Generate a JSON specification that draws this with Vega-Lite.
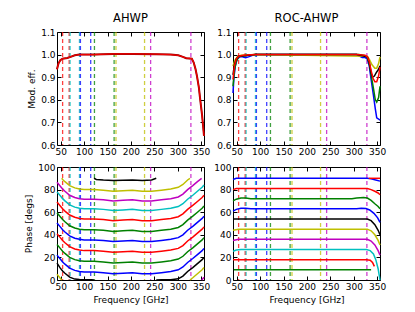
{
  "$schema": "https://vega.github.io/schema/vega-lite/v6.json",
  "padding": {"left": 24, "top": 12, "right": 5, "bottom": 5},
  "config": {
    "font": "DejaVu Sans",
    "view": {"stroke": "black", "strokeWidth": 1},
    "axis": {"grid": false, "domain": false, "tickColor": "black", "tickSize": -4, "labelPadding": 6, "labelFontSize": 9, "labelColor": "black", "titleFontSize": 9, "titleFontWeight": "normal", "titleColor": "black", "labelFlush": false, "titlePadding": 4},
    "title": {"fontSize": 11.5, "fontWeight": 400, "offset": 4, "color": "black", "font": "DejaVu Sans"}
  },
  "datasets": {
    "bands": [
      {"f": 54, "c": "r"}, {"f": 68, "c": "r"},
      {"f": 70, "c": "c"}, {"f": 90, "c": "c"},
      {"f": 92, "c": "b"}, {"f": 114, "c": "b"},
      {"f": 122, "c": "g"}, {"f": 164, "c": "g"},
      {"f": 168, "c": "y"}, {"f": 229, "c": "y"},
      {"f": 242, "c": "m"}, {"f": 328, "c": "m"}
    ],
    "tl": [
      {"f": 42, "v": 0.935}, {"f": 45, "v": 0.96}, {"f": 49, "v": 0.975}, {"f": 54, "v": 0.982}, {"f": 64, "v": 0.985}, {"f": 71, "v": 0.99}, {"f": 80, "v": 0.997}, {"f": 90, "v": 1.0}, {"f": 121, "v": 1.0}, {"f": 162, "v": 1.003}, {"f": 203, "v": 1.003}, {"f": 254, "v": 1.002}, {"f": 285, "v": 1.0}, {"f": 301, "v": 0.997}, {"f": 311, "v": 0.99}, {"f": 318, "v": 0.984}, {"f": 330, "v": 0.982}, {"f": 334, "v": 0.965}, {"f": 338, "v": 0.935}, {"f": 341, "v": 0.905}, {"f": 345, "v": 0.855}, {"f": 348, "v": 0.8}, {"f": 352, "v": 0.73}, {"f": 356, "v": 0.64}
    ],
    "tr": [
      {"id": "b", "c": "b", "f": 42, "v": 0.83}, {"id": "b", "c": "b", "f": 44, "v": 0.9}, {"id": "b", "c": "b", "f": 47, "v": 0.95}, {"id": "b", "c": "b", "f": 51, "v": 0.98}, {"id": "b", "c": "b", "f": 56, "v": 0.99}, {"id": "b", "c": "b", "f": 62, "v": 0.99}, {"id": "b", "c": "b", "f": 69, "v": 0.986}, {"id": "b", "c": "b", "f": 75, "v": 0.99}, {"id": "b", "c": "b", "f": 85, "v": 0.998}, {"id": "b", "c": "b", "f": 95, "v": 1.0}, {"id": "b", "c": "b", "f": 306, "v": 1.0}, {"id": "b", "c": "b", "f": 311, "v": 0.995}, {"id": "b", "c": "b", "f": 318, "v": 0.987}, {"id": "b", "c": "b", "f": 324, "v": 0.988}, {"id": "b", "c": "b", "f": 329, "v": 0.98}, {"id": "b", "c": "b", "f": 333, "v": 0.95}, {"id": "b", "c": "b", "f": 337, "v": 0.89}, {"id": "b", "c": "b", "f": 342, "v": 0.82}, {"id": "b", "c": "b", "f": 346, "v": 0.76}, {"id": "b", "c": "b", "f": 349, "v": 0.72}, {"id": "b", "c": "b", "f": 353, "v": 0.715}, {"id": "b", "c": "b", "f": 356, "v": 0.71},
      {"id": "g", "c": "g", "f": 42, "v": 0.86}, {"id": "g", "c": "g", "f": 45, "v": 0.93}, {"id": "g", "c": "g", "f": 49, "v": 0.97}, {"id": "g", "c": "g", "f": 54, "v": 0.99}, {"id": "g", "c": "g", "f": 64, "v": 0.995}, {"id": "g", "c": "g", "f": 90, "v": 1.0}, {"id": "g", "c": "g", "f": 311, "v": 1.0}, {"id": "g", "c": "g", "f": 324, "v": 0.995}, {"id": "g", "c": "g", "f": 329, "v": 0.985}, {"id": "g", "c": "g", "f": 333, "v": 0.96}, {"id": "g", "c": "g", "f": 337, "v": 0.91}, {"id": "g", "c": "g", "f": 342, "v": 0.85}, {"id": "g", "c": "g", "f": 346, "v": 0.8}, {"id": "g", "c": "g", "f": 349, "v": 0.79}, {"id": "g", "c": "g", "f": 353, "v": 0.81}, {"id": "g", "c": "g", "f": 356, "v": 0.86},
      {"id": "y", "c": "y", "f": 42, "v": 0.95}, {"id": "y", "c": "y", "f": 46, "v": 0.975}, {"id": "y", "c": "y", "f": 51, "v": 0.99}, {"id": "y", "c": "y", "f": 59, "v": 0.997}, {"id": "y", "c": "y", "f": 90, "v": 1.0}, {"id": "y", "c": "y", "f": 329, "v": 0.993}, {"id": "y", "c": "y", "f": 333, "v": 0.98}, {"id": "y", "c": "y", "f": 339, "v": 0.955}, {"id": "y", "c": "y", "f": 345, "v": 0.94}, {"id": "y", "c": "y", "f": 349, "v": 0.94}, {"id": "y", "c": "y", "f": 353, "v": 0.96}, {"id": "y", "c": "y", "f": 356, "v": 0.99},
      {"id": "k", "c": "k", "f": 42, "v": 0.91}, {"id": "k", "c": "k", "f": 45, "v": 0.955}, {"id": "k", "c": "k", "f": 49, "v": 0.98}, {"id": "k", "c": "k", "f": 54, "v": 0.993}, {"id": "k", "c": "k", "f": 90, "v": 1.0}, {"id": "k", "c": "k", "f": 306, "v": 1.0}, {"id": "k", "c": "k", "f": 329, "v": 0.99}, {"id": "k", "c": "k", "f": 333, "v": 0.965}, {"id": "k", "c": "k", "f": 337, "v": 0.92}, {"id": "k", "c": "k", "f": 340, "v": 0.9}, {"id": "k", "c": "k", "f": 344, "v": 0.905}, {"id": "k", "c": "k", "f": 348, "v": 0.92}, {"id": "k", "c": "k", "f": 353, "v": 0.935}, {"id": "k", "c": "k", "f": 356, "v": 0.95},
      {"id": "r", "c": "r", "f": 42, "v": 0.89}, {"id": "r", "c": "r", "f": 45, "v": 0.95}, {"id": "r", "c": "r", "f": 49, "v": 0.98}, {"id": "r", "c": "r", "f": 54, "v": 0.993}, {"id": "r", "c": "r", "f": 64, "v": 0.997}, {"id": "r", "c": "r", "f": 90, "v": 1.0}, {"id": "r", "c": "r", "f": 306, "v": 1.0}, {"id": "r", "c": "r", "f": 324, "v": 0.997}, {"id": "r", "c": "r", "f": 329, "v": 0.99}, {"id": "r", "c": "r", "f": 333, "v": 0.97}, {"id": "r", "c": "r", "f": 337, "v": 0.93}, {"id": "r", "c": "r", "f": 341, "v": 0.895}, {"id": "r", "c": "r", "f": 345, "v": 0.88}, {"id": "r", "c": "r", "f": 349, "v": 0.88}, {"id": "r", "c": "r", "f": 353, "v": 0.905}, {"id": "r", "c": "r", "f": 356, "v": 0.945}
    ],
    "bl": [
      {"id": "b0", "c": "b", "f": 42, "v": 50.5}, {"id": "b0", "c": "b", "f": 49, "v": 47}, {"id": "b0", "c": "b", "f": 54, "v": 44.5}, {"id": "b0", "c": "b", "f": 59, "v": 42.5}, {"id": "b0", "c": "b", "f": 69, "v": 39}, {"id": "b0", "c": "b", "f": 80, "v": 37}, {"id": "b0", "c": "b", "f": 90, "v": 36}, {"id": "b0", "c": "b", "f": 100, "v": 35.5}, {"id": "b0", "c": "b", "f": 121, "v": 35.5}, {"id": "b0", "c": "b", "f": 141, "v": 35}, {"id": "b0", "c": "b", "f": 162, "v": 34}, {"id": "b0", "c": "b", "f": 183, "v": 34.5}, {"id": "b0", "c": "b", "f": 203, "v": 35}, {"id": "b0", "c": "b", "f": 224, "v": 34}, {"id": "b0", "c": "b", "f": 244, "v": 34}, {"id": "b0", "c": "b", "f": 265, "v": 35}, {"id": "b0", "c": "b", "f": 285, "v": 36}, {"id": "b0", "c": "b", "f": 301, "v": 37.5}, {"id": "b0", "c": "b", "f": 311, "v": 40}, {"id": "b0", "c": "b", "f": 321, "v": 44}, {"id": "b0", "c": "b", "f": 332, "v": 47.5}, {"id": "b0", "c": "b", "f": 342, "v": 51}, {"id": "b0", "c": "b", "f": 352, "v": 54.5}, {"id": "b0", "c": "b", "f": 356, "v": 56.5},
      {"id": "g0", "c": "g", "f": 42, "v": 59.5}, {"id": "g0", "c": "g", "f": 49, "v": 56}, {"id": "g0", "c": "g", "f": 54, "v": 53.5}, {"id": "g0", "c": "g", "f": 59, "v": 51.5}, {"id": "g0", "c": "g", "f": 69, "v": 48}, {"id": "g0", "c": "g", "f": 80, "v": 46}, {"id": "g0", "c": "g", "f": 90, "v": 45}, {"id": "g0", "c": "g", "f": 100, "v": 44.5}, {"id": "g0", "c": "g", "f": 121, "v": 44.5}, {"id": "g0", "c": "g", "f": 141, "v": 44}, {"id": "g0", "c": "g", "f": 162, "v": 43}, {"id": "g0", "c": "g", "f": 183, "v": 43.5}, {"id": "g0", "c": "g", "f": 203, "v": 44}, {"id": "g0", "c": "g", "f": 224, "v": 43}, {"id": "g0", "c": "g", "f": 244, "v": 43}, {"id": "g0", "c": "g", "f": 265, "v": 44}, {"id": "g0", "c": "g", "f": 285, "v": 45}, {"id": "g0", "c": "g", "f": 301, "v": 46.5}, {"id": "g0", "c": "g", "f": 311, "v": 49}, {"id": "g0", "c": "g", "f": 321, "v": 53}, {"id": "g0", "c": "g", "f": 332, "v": 56.5}, {"id": "g0", "c": "g", "f": 342, "v": 60}, {"id": "g0", "c": "g", "f": 352, "v": 63.5}, {"id": "g0", "c": "g", "f": 356, "v": 65.5},
      {"id": "r0", "c": "r", "f": 42, "v": 69}, {"id": "r0", "c": "r", "f": 49, "v": 65.5}, {"id": "r0", "c": "r", "f": 54, "v": 63}, {"id": "r0", "c": "r", "f": 59, "v": 61}, {"id": "r0", "c": "r", "f": 69, "v": 57.5}, {"id": "r0", "c": "r", "f": 80, "v": 55.5}, {"id": "r0", "c": "r", "f": 90, "v": 54.5}, {"id": "r0", "c": "r", "f": 100, "v": 54}, {"id": "r0", "c": "r", "f": 121, "v": 54}, {"id": "r0", "c": "r", "f": 141, "v": 53.5}, {"id": "r0", "c": "r", "f": 162, "v": 52.5}, {"id": "r0", "c": "r", "f": 183, "v": 53}, {"id": "r0", "c": "r", "f": 203, "v": 53.5}, {"id": "r0", "c": "r", "f": 224, "v": 52.5}, {"id": "r0", "c": "r", "f": 244, "v": 52.5}, {"id": "r0", "c": "r", "f": 265, "v": 53.5}, {"id": "r0", "c": "r", "f": 285, "v": 54.5}, {"id": "r0", "c": "r", "f": 301, "v": 56}, {"id": "r0", "c": "r", "f": 311, "v": 58.5}, {"id": "r0", "c": "r", "f": 321, "v": 62.5}, {"id": "r0", "c": "r", "f": 332, "v": 66}, {"id": "r0", "c": "r", "f": 342, "v": 69.5}, {"id": "r0", "c": "r", "f": 352, "v": 73}, {"id": "r0", "c": "r", "f": 356, "v": 75},
      {"id": "c0", "c": "c", "f": 42, "v": 78}, {"id": "c0", "c": "c", "f": 49, "v": 74.5}, {"id": "c0", "c": "c", "f": 54, "v": 72}, {"id": "c0", "c": "c", "f": 59, "v": 70}, {"id": "c0", "c": "c", "f": 69, "v": 66.5}, {"id": "c0", "c": "c", "f": 80, "v": 64.5}, {"id": "c0", "c": "c", "f": 90, "v": 63.5}, {"id": "c0", "c": "c", "f": 100, "v": 63}, {"id": "c0", "c": "c", "f": 121, "v": 63}, {"id": "c0", "c": "c", "f": 141, "v": 62.5}, {"id": "c0", "c": "c", "f": 162, "v": 61.5}, {"id": "c0", "c": "c", "f": 183, "v": 62}, {"id": "c0", "c": "c", "f": 203, "v": 62.5}, {"id": "c0", "c": "c", "f": 224, "v": 61.5}, {"id": "c0", "c": "c", "f": 244, "v": 61.5}, {"id": "c0", "c": "c", "f": 265, "v": 62.5}, {"id": "c0", "c": "c", "f": 285, "v": 63.5}, {"id": "c0", "c": "c", "f": 301, "v": 65}, {"id": "c0", "c": "c", "f": 311, "v": 67.5}, {"id": "c0", "c": "c", "f": 321, "v": 71.5}, {"id": "c0", "c": "c", "f": 332, "v": 75}, {"id": "c0", "c": "c", "f": 342, "v": 78.5}, {"id": "c0", "c": "c", "f": 352, "v": 82}, {"id": "c0", "c": "c", "f": 356, "v": 84},
      {"id": "m0", "c": "m", "f": 42, "v": 86.5}, {"id": "m0", "c": "m", "f": 49, "v": 83}, {"id": "m0", "c": "m", "f": 54, "v": 80.5}, {"id": "m0", "c": "m", "f": 59, "v": 78.5}, {"id": "m0", "c": "m", "f": 69, "v": 75}, {"id": "m0", "c": "m", "f": 80, "v": 73}, {"id": "m0", "c": "m", "f": 90, "v": 72}, {"id": "m0", "c": "m", "f": 100, "v": 71.5}, {"id": "m0", "c": "m", "f": 121, "v": 71.5}, {"id": "m0", "c": "m", "f": 141, "v": 71}, {"id": "m0", "c": "m", "f": 162, "v": 70}, {"id": "m0", "c": "m", "f": 183, "v": 70.5}, {"id": "m0", "c": "m", "f": 203, "v": 71}, {"id": "m0", "c": "m", "f": 224, "v": 70}, {"id": "m0", "c": "m", "f": 244, "v": 70}, {"id": "m0", "c": "m", "f": 265, "v": 71}, {"id": "m0", "c": "m", "f": 285, "v": 72}, {"id": "m0", "c": "m", "f": 301, "v": 73.5}, {"id": "m0", "c": "m", "f": 311, "v": 76}, {"id": "m0", "c": "m", "f": 321, "v": 80}, {"id": "m0", "c": "m", "f": 332, "v": 83.5}, {"id": "m0", "c": "m", "f": 342, "v": 87}, {"id": "m0", "c": "m", "f": 351, "v": 90},
      {"id": "m0w", "c": "m", "f": 351, "v": 0}, {"id": "m0w", "c": "m", "f": 352, "v": 0.5}, {"id": "m0w", "c": "m", "f": 356, "v": 2.5},
      {"id": "y0a", "c": "y", "f": 42, "v": 5}, {"id": "y0a", "c": "y", "f": 49, "v": 1.5}, {"id": "y0a", "c": "y", "f": 52, "v": 0},
      {"id": "y0", "c": "y", "f": 52, "v": 90}, {"id": "y0", "c": "y", "f": 54, "v": 89}, {"id": "y0", "c": "y", "f": 59, "v": 87}, {"id": "y0", "c": "y", "f": 69, "v": 83.5}, {"id": "y0", "c": "y", "f": 80, "v": 81.5}, {"id": "y0", "c": "y", "f": 90, "v": 80.5}, {"id": "y0", "c": "y", "f": 100, "v": 80}, {"id": "y0", "c": "y", "f": 121, "v": 80}, {"id": "y0", "c": "y", "f": 141, "v": 79.5}, {"id": "y0", "c": "y", "f": 162, "v": 78.5}, {"id": "y0", "c": "y", "f": 183, "v": 79}, {"id": "y0", "c": "y", "f": 203, "v": 79.5}, {"id": "y0", "c": "y", "f": 224, "v": 78.5}, {"id": "y0", "c": "y", "f": 244, "v": 78.5}, {"id": "y0", "c": "y", "f": 265, "v": 79.5}, {"id": "y0", "c": "y", "f": 285, "v": 80.5}, {"id": "y0", "c": "y", "f": 301, "v": 82}, {"id": "y0", "c": "y", "f": 311, "v": 84.5}, {"id": "y0", "c": "y", "f": 321, "v": 88.5}, {"id": "y0", "c": "y", "f": 326, "v": 90},
      {"id": "y0b", "c": "y", "f": 326, "v": 0}, {"id": "y0b", "c": "y", "f": 332, "v": 2}, {"id": "y0b", "c": "y", "f": 342, "v": 5.5}, {"id": "y0b", "c": "y", "f": 352, "v": 9}, {"id": "y0b", "c": "y", "f": 356, "v": 11},
      {"id": "k0a", "c": "k", "f": 42, "v": 15}, {"id": "k0a", "c": "k", "f": 49, "v": 10.5}, {"id": "k0a", "c": "k", "f": 54, "v": 8}, {"id": "k0a", "c": "k", "f": 59, "v": 6}, {"id": "k0a", "c": "k", "f": 69, "v": 2.5}, {"id": "k0a", "c": "k", "f": 80, "v": 0.8}, {"id": "k0a", "c": "k", "f": 90, "v": 0.4}, {"id": "k0a", "c": "k", "f": 100, "v": 0.3}, {"id": "k0a", "c": "k", "f": 116, "v": 0.2}, {"id": "k0a", "c": "k", "f": 121, "v": 0},
      {"id": "k0", "c": "k", "f": 121, "v": 90}, {"id": "k0", "c": "k", "f": 126, "v": 89}, {"id": "k0", "c": "k", "f": 141, "v": 88.5}, {"id": "k0", "c": "k", "f": 162, "v": 88}, {"id": "k0", "c": "k", "f": 183, "v": 88.3}, {"id": "k0", "c": "k", "f": 203, "v": 88.6}, {"id": "k0", "c": "k", "f": 224, "v": 88}, {"id": "k0", "c": "k", "f": 244, "v": 88.5}, {"id": "k0", "c": "k", "f": 254, "v": 90},
      {"id": "k0b", "c": "k", "f": 254, "v": 0}, {"id": "k0b", "c": "k", "f": 265, "v": 0.2}, {"id": "k0b", "c": "k", "f": 285, "v": 0.3}, {"id": "k0b", "c": "k", "f": 301, "v": 1}, {"id": "k0b", "c": "k", "f": 311, "v": 3.5}, {"id": "k0b", "c": "k", "f": 321, "v": 7.5}, {"id": "k0b", "c": "k", "f": 332, "v": 11}, {"id": "k0b", "c": "k", "f": 342, "v": 14.5}, {"id": "k0b", "c": "k", "f": 352, "v": 18}, {"id": "k0b", "c": "k", "f": 356, "v": 20},
      {"id": "b1", "c": "b", "f": 42, "v": 22}, {"id": "b1", "c": "b", "f": 49, "v": 18.5}, {"id": "b1", "c": "b", "f": 54, "v": 16}, {"id": "b1", "c": "b", "f": 59, "v": 14}, {"id": "b1", "c": "b", "f": 69, "v": 10.5}, {"id": "b1", "c": "b", "f": 80, "v": 8.5}, {"id": "b1", "c": "b", "f": 90, "v": 7.5}, {"id": "b1", "c": "b", "f": 100, "v": 7}, {"id": "b1", "c": "b", "f": 121, "v": 7}, {"id": "b1", "c": "b", "f": 141, "v": 6.5}, {"id": "b1", "c": "b", "f": 162, "v": 5.5}, {"id": "b1", "c": "b", "f": 183, "v": 6}, {"id": "b1", "c": "b", "f": 203, "v": 6.5}, {"id": "b1", "c": "b", "f": 224, "v": 5.5}, {"id": "b1", "c": "b", "f": 244, "v": 5.5}, {"id": "b1", "c": "b", "f": 265, "v": 6.5}, {"id": "b1", "c": "b", "f": 285, "v": 7.5}, {"id": "b1", "c": "b", "f": 301, "v": 9}, {"id": "b1", "c": "b", "f": 311, "v": 11.5}, {"id": "b1", "c": "b", "f": 321, "v": 15.5}, {"id": "b1", "c": "b", "f": 332, "v": 19}, {"id": "b1", "c": "b", "f": 342, "v": 22.5}, {"id": "b1", "c": "b", "f": 352, "v": 26}, {"id": "b1", "c": "b", "f": 356, "v": 28},
      {"id": "g1", "c": "g", "f": 42, "v": 31.5}, {"id": "g1", "c": "g", "f": 49, "v": 28}, {"id": "g1", "c": "g", "f": 54, "v": 25.5}, {"id": "g1", "c": "g", "f": 59, "v": 23.5}, {"id": "g1", "c": "g", "f": 69, "v": 20}, {"id": "g1", "c": "g", "f": 80, "v": 18}, {"id": "g1", "c": "g", "f": 90, "v": 17}, {"id": "g1", "c": "g", "f": 100, "v": 16.5}, {"id": "g1", "c": "g", "f": 121, "v": 16.5}, {"id": "g1", "c": "g", "f": 141, "v": 16}, {"id": "g1", "c": "g", "f": 162, "v": 15}, {"id": "g1", "c": "g", "f": 183, "v": 15.5}, {"id": "g1", "c": "g", "f": 203, "v": 16}, {"id": "g1", "c": "g", "f": 224, "v": 15}, {"id": "g1", "c": "g", "f": 244, "v": 15}, {"id": "g1", "c": "g", "f": 265, "v": 16}, {"id": "g1", "c": "g", "f": 285, "v": 17}, {"id": "g1", "c": "g", "f": 301, "v": 18.5}, {"id": "g1", "c": "g", "f": 311, "v": 21}, {"id": "g1", "c": "g", "f": 321, "v": 25}, {"id": "g1", "c": "g", "f": 332, "v": 28.5}, {"id": "g1", "c": "g", "f": 342, "v": 32}, {"id": "g1", "c": "g", "f": 352, "v": 35.5}, {"id": "g1", "c": "g", "f": 356, "v": 37.5},
      {"id": "r1", "c": "r", "f": 42, "v": 41}, {"id": "r1", "c": "r", "f": 49, "v": 37.5}, {"id": "r1", "c": "r", "f": 54, "v": 35}, {"id": "r1", "c": "r", "f": 59, "v": 33}, {"id": "r1", "c": "r", "f": 69, "v": 29.5}, {"id": "r1", "c": "r", "f": 80, "v": 27.5}, {"id": "r1", "c": "r", "f": 90, "v": 26.5}, {"id": "r1", "c": "r", "f": 100, "v": 26}, {"id": "r1", "c": "r", "f": 121, "v": 26}, {"id": "r1", "c": "r", "f": 141, "v": 25.5}, {"id": "r1", "c": "r", "f": 162, "v": 24.5}, {"id": "r1", "c": "r", "f": 183, "v": 25}, {"id": "r1", "c": "r", "f": 203, "v": 25.5}, {"id": "r1", "c": "r", "f": 224, "v": 24.5}, {"id": "r1", "c": "r", "f": 244, "v": 24.5}, {"id": "r1", "c": "r", "f": 265, "v": 25.5}, {"id": "r1", "c": "r", "f": 285, "v": 26.5}, {"id": "r1", "c": "r", "f": 301, "v": 28}, {"id": "r1", "c": "r", "f": 311, "v": 30.5}, {"id": "r1", "c": "r", "f": 321, "v": 34.5}, {"id": "r1", "c": "r", "f": 332, "v": 38}, {"id": "r1", "c": "r", "f": 342, "v": 41.5}, {"id": "r1", "c": "r", "f": 352, "v": 45}, {"id": "r1", "c": "r", "f": 356, "v": 47}
    ],
    "br": [
      {"id": "g9", "c": "g", "f": 44, "v": 9}, {"id": "g9", "c": "g", "f": 200, "v": 9}, {"id": "g9", "c": "g", "f": 337, "v": 9},
      {"id": "r18", "c": "r", "f": 42, "v": 18}, {"id": "r18", "c": "r", "f": 327, "v": 18}, {"id": "r18", "c": "r", "f": 335, "v": 17.5}, {"id": "r18", "c": "r", "f": 340, "v": 15.5}, {"id": "r18", "c": "r", "f": 344, "v": 12},
      {"id": "c27", "c": "c", "f": 42, "v": 25.5}, {"id": "c27", "c": "c", "f": 49, "v": 26.5}, {"id": "c27", "c": "c", "f": 59, "v": 27}, {"id": "c27", "c": "c", "f": 327, "v": 27}, {"id": "c27", "c": "c", "f": 335, "v": 26}, {"id": "c27", "c": "c", "f": 342, "v": 23}, {"id": "c27", "c": "c", "f": 347, "v": 18}, {"id": "c27", "c": "c", "f": 352, "v": 10}, {"id": "c27", "c": "c", "f": 356, "v": 0},
      {"id": "m36", "c": "m", "f": 42, "v": 35}, {"id": "m36", "c": "m", "f": 54, "v": 36}, {"id": "m36", "c": "m", "f": 329, "v": 36}, {"id": "m36", "c": "m", "f": 337, "v": 34.5}, {"id": "m36", "c": "m", "f": 345, "v": 31}, {"id": "m36", "c": "m", "f": 352, "v": 26}, {"id": "m36", "c": "m", "f": 356, "v": 22},
      {"id": "y45", "c": "y", "f": 42, "v": 44}, {"id": "y45", "c": "y", "f": 54, "v": 45}, {"id": "y45", "c": "y", "f": 329, "v": 45}, {"id": "y45", "c": "y", "f": 337, "v": 43.5}, {"id": "y45", "c": "y", "f": 345, "v": 40}, {"id": "y45", "c": "y", "f": 352, "v": 35}, {"id": "y45", "c": "y", "f": 356, "v": 31},
      {"id": "k54", "c": "k", "f": 42, "v": 54}, {"id": "k54", "c": "k", "f": 329, "v": 54}, {"id": "k54", "c": "k", "f": 337, "v": 52.5}, {"id": "k54", "c": "k", "f": 345, "v": 49}, {"id": "k54", "c": "k", "f": 352, "v": 44}, {"id": "k54", "c": "k", "f": 356, "v": 40},
      {"id": "b63", "c": "b", "f": 42, "v": 61}, {"id": "b63", "c": "b", "f": 49, "v": 62.5}, {"id": "b63", "c": "b", "f": 59, "v": 63.5}, {"id": "b63", "c": "b", "f": 69, "v": 63.5}, {"id": "b63", "c": "b", "f": 80, "v": 63}, {"id": "b63", "c": "b", "f": 306, "v": 63}, {"id": "b63", "c": "b", "f": 316, "v": 63.5}, {"id": "b63", "c": "b", "f": 326, "v": 63.3}, {"id": "b63", "c": "b", "f": 334, "v": 62}, {"id": "b63", "c": "b", "f": 343, "v": 59}, {"id": "b63", "c": "b", "f": 351, "v": 55}, {"id": "b63", "c": "b", "f": 356, "v": 51},
      {"id": "g72", "c": "g", "f": 42, "v": 70}, {"id": "g72", "c": "g", "f": 49, "v": 71.5}, {"id": "g72", "c": "g", "f": 59, "v": 72.5}, {"id": "g72", "c": "g", "f": 69, "v": 72.5}, {"id": "g72", "c": "g", "f": 80, "v": 72}, {"id": "g72", "c": "g", "f": 296, "v": 72}, {"id": "g72", "c": "g", "f": 306, "v": 72.5}, {"id": "g72", "c": "g", "f": 321, "v": 73}, {"id": "g72", "c": "g", "f": 329, "v": 72.5}, {"id": "g72", "c": "g", "f": 337, "v": 70.5}, {"id": "g72", "c": "g", "f": 345, "v": 67.5}, {"id": "g72", "c": "g", "f": 352, "v": 65}, {"id": "g72", "c": "g", "f": 356, "v": 63},
      {"id": "r81", "c": "r", "f": 42, "v": 80}, {"id": "r81", "c": "r", "f": 49, "v": 81}, {"id": "r81", "c": "r", "f": 329, "v": 81}, {"id": "r81", "c": "r", "f": 337, "v": 80}, {"id": "r81", "c": "r", "f": 345, "v": 78.5}, {"id": "r81", "c": "r", "f": 352, "v": 77}, {"id": "r81", "c": "r", "f": 356, "v": 75.5},
      {"id": "b90", "c": "b", "f": 42, "v": 89}, {"id": "b90", "c": "b", "f": 49, "v": 90}, {"id": "b90", "c": "b", "f": 329, "v": 90}, {"id": "b90", "c": "b", "f": 337, "v": 89.5}, {"id": "b90", "c": "b", "f": 347, "v": 88.5}, {"id": "b90", "c": "b", "f": 356, "v": 87.5},
      {"id": "r90", "c": "r", "f": 332, "v": 90}, {"id": "r90", "c": "r", "f": 356, "v": 90}
    ]
  },
  "concat": [
    {
      "width": 147, "height": 113, "title": {"text": "AHWP", "fontWeight": 400, "fontSize": 11.5},
      "layer": [
        {"data": {"name": "bands"}, "mark": {"type": "rule", "strokeDash": [4, 3], "strokeWidth": 1.3, "opacity": 0.75},
         "encoding": {"x": {"field": "f", "type": "quantitative", "scale": {"domain": [42, 356], "nice": false}, "axis": {"orient": "bottom", "values": [50, 100, 150, 200, 250, 300, 350], "title": null}},
                      "color": {"field": "c", "type": "nominal", "legend": null, "scale": {"domain": ["b", "g", "r", "c", "m", "y", "k"], "range": ["#0000ff", "#008000", "#ff0000", "#00bfbf", "#bf00bf", "#bfbf00", "#000000"]}}}},
        {"data": {"name": "tl"}, "mark": {"type": "line", "strokeWidth": 2, "color": "#900000"},
         "encoding": {"x": {"field": "f", "type": "quantitative", "axis": {"orient": "top", "values": [50, 100, 150, 200, 250, 300, 350], "labels": false, "title": null}},
                      "y": {"field": "v", "type": "quantitative", "scale": {"domain": [0.6, 1.1], "nice": false}, "axis": {"orient": "left", "values": [0.6, 0.7, 0.8, 0.9, 1.0, 1.1], "format": ".1f", "title": "Mod. eff."}}}},
        {"data": {"name": "tl"}, "mark": {"type": "line", "strokeWidth": 1.2, "color": "#ee0000"},
         "encoding": {"x": {"field": "f", "type": "quantitative", "axis": null},
                      "y": {"field": "v", "type": "quantitative", "axis": {"orient": "right", "values": [0.6, 0.7, 0.8, 0.9, 1.0, 1.1], "labels": false, "title": null}}}}
      ],
      "resolve": {"axis": {"x": "independent", "y": "independent"}}
    },
    {
      "width": 147, "height": 113, "title": {"text": "ROC-AHWP", "fontWeight": 400, "fontSize": 11.5},
      "layer": [
        {"data": {"name": "bands"}, "mark": {"type": "rule", "strokeDash": [4, 3], "strokeWidth": 1.3, "opacity": 0.75},
         "encoding": {"x": {"field": "f", "type": "quantitative", "scale": {"domain": [42, 356], "nice": false}, "axis": {"orient": "bottom", "values": [50, 100, 150, 200, 250, 300, 350], "title": null}},
                      "color": {"field": "c", "type": "nominal", "legend": null, "scale": {"domain": ["b", "g", "r", "c", "m", "y", "k"], "range": ["#0000ff", "#008000", "#ff0000", "#00bfbf", "#bf00bf", "#bfbf00", "#000000"]}}}},
        {"data": {"name": "tr"}, "mark": {"type": "line", "strokeWidth": 1.5},
         "encoding": {"x": {"field": "f", "type": "quantitative", "axis": {"orient": "top", "values": [50, 100, 150, 200, 250, 300, 350], "labels": false, "title": null}},
                      "y": {"field": "v", "type": "quantitative", "scale": {"domain": [0.6, 1.1], "nice": false}, "axis": {"orient": "left", "values": [0.6, 0.7, 0.8, 0.9, 1.0, 1.1], "format": ".1f", "title": null}},
                      "color": {"field": "c", "type": "nominal", "legend": null},
                      "detail": {"field": "id", "type": "nominal"}}},
        {"data": {"name": "tr"}, "mark": {"type": "line", "strokeWidth": 1.5, "opacity": 0},
         "encoding": {"x": {"field": "f", "type": "quantitative", "axis": null},
                      "y": {"field": "v", "type": "quantitative", "axis": {"orient": "right", "values": [0.6, 0.7, 0.8, 0.9, 1.0, 1.1], "labels": false, "title": null}},
                      "detail": {"field": "id", "type": "nominal"}}}
      ],
      "resolve": {"axis": {"x": "independent", "y": "independent"}}
    },
    {
      "width": 147, "height": 113,
      "layer": [
        {"data": {"name": "bands"}, "mark": {"type": "rule", "strokeDash": [4, 3], "strokeWidth": 1.3, "opacity": 0.75},
         "encoding": {"x": {"field": "f", "type": "quantitative", "scale": {"domain": [42, 356], "nice": false}, "axis": {"orient": "bottom", "values": [50, 100, 150, 200, 250, 300, 350], "title": "Frequency [GHz]"}},
                      "color": {"field": "c", "type": "nominal", "legend": null, "scale": {"domain": ["b", "g", "r", "c", "m", "y", "k"], "range": ["#0000ff", "#008000", "#ff0000", "#00bfbf", "#bf00bf", "#bfbf00", "#000000"]}}}},
        {"data": {"name": "bl"}, "mark": {"type": "line", "strokeWidth": 1.5},
         "encoding": {"x": {"field": "f", "type": "quantitative", "axis": {"orient": "top", "values": [50, 100, 150, 200, 250, 300, 350], "labels": false, "title": null}},
                      "y": {"field": "v", "type": "quantitative", "scale": {"domain": [0, 100], "nice": false}, "axis": {"orient": "left", "values": [0, 20, 40, 60, 80, 100], "title": "Phase [degs]"}},
                      "color": {"field": "c", "type": "nominal", "legend": null},
                      "detail": {"field": "id", "type": "nominal"}}},
        {"data": {"name": "bl"}, "mark": {"type": "line", "opacity": 0},
         "encoding": {"x": {"field": "f", "type": "quantitative", "axis": null},
                      "y": {"field": "v", "type": "quantitative", "axis": {"orient": "right", "values": [0, 20, 40, 60, 80, 100], "labels": false, "title": null}},
                      "detail": {"field": "id", "type": "nominal"}}}
      ],
      "resolve": {"axis": {"x": "independent", "y": "independent"}}
    },
    {
      "width": 147, "height": 113,
      "layer": [
        {"data": {"name": "bands"}, "mark": {"type": "rule", "strokeDash": [4, 3], "strokeWidth": 1.3, "opacity": 0.75},
         "encoding": {"x": {"field": "f", "type": "quantitative", "scale": {"domain": [42, 356], "nice": false}, "axis": {"orient": "bottom", "values": [50, 100, 150, 200, 250, 300, 350], "title": "Frequency [GHz]"}},
                      "color": {"field": "c", "type": "nominal", "legend": null, "scale": {"domain": ["b", "g", "r", "c", "m", "y", "k"], "range": ["#0000ff", "#008000", "#ff0000", "#00bfbf", "#bf00bf", "#bfbf00", "#000000"]}}}},
        {"data": {"name": "br"}, "mark": {"type": "line", "strokeWidth": 1.5},
         "encoding": {"x": {"field": "f", "type": "quantitative", "axis": {"orient": "top", "values": [50, 100, 150, 200, 250, 300, 350], "labels": false, "title": null}},
                      "y": {"field": "v", "type": "quantitative", "scale": {"domain": [0, 100], "nice": false}, "axis": {"orient": "left", "values": [0, 20, 40, 60, 80, 100], "title": null}},
                      "color": {"field": "c", "type": "nominal", "legend": null},
                      "detail": {"field": "id", "type": "nominal"}}},
        {"data": {"name": "br"}, "mark": {"type": "line", "opacity": 0},
         "encoding": {"x": {"field": "f", "type": "quantitative", "axis": null},
                      "y": {"field": "v", "type": "quantitative", "axis": {"orient": "right", "values": [0, 20, 40, 60, 80, 100], "labels": false, "title": null}},
                      "detail": {"field": "id", "type": "nominal"}}}
      ],
      "resolve": {"axis": {"x": "independent", "y": "independent"}}
    }
  ],
  "columns": 2,
  "spacing": {"row": 22, "column": 29},
  "bounds": "flush"
}
